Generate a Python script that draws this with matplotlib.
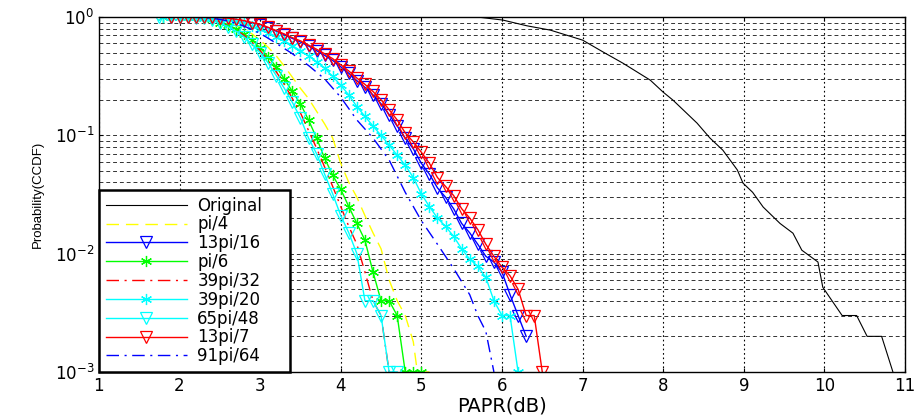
import matplotlib.pyplot as plt
import numpy as np

plt.rcParams['font.family'] = ['DejaVu Sans']

# CCDF of PAPR
orig_x = [4.5, 5.73, 6.01, 6.31, 6.6, 7.0, 7.25, 7.5, 7.84, 8.0, 8.12, 8.42, 8.58,
          8.74, 8.92, 8.99, 9.11, 9.24, 9.45, 9.61, 9.72, 9.92, 9.98, 10.22, 10.4,
          10.53, 10.71, 10.85]
orig_y = [1.0, 0.995, 0.944, 0.844, 0.776, 0.639, 0.509, 0.408, 0.293, 0.232, 0.199,
          0.127, 0.095, 0.075, 0.051, 0.0395, 0.033, 0.0248, 0.018, 0.0149, 0.0107,
          0.0085, 0.0052, 0.003, 0.003, 0.002, 0.002, 0.001]

pi4_x = [1.9, 2.0, 2.2, 2.4, 2.5, 2.6, 2.7, 2.8, 2.9, 3.0, 3.1, 3.2, 3.3, 3.4, 3.5,
         3.6, 3.7, 3.8, 3.9, 4.0, 4.1, 4.2, 4.3, 4.4, 4.5, 4.6, 4.7, 4.8, 4.9, 4.95, 5.1]
pi4_y = [1.0, 0.999, 0.995, 0.97, 0.94, 0.9, 0.85, 0.79, 0.72, 0.64, 0.555, 0.47,
         0.385, 0.31, 0.25, 0.205, 0.16, 0.125, 0.095, 0.058, 0.04, 0.03, 0.021,
         0.015, 0.011, 0.006, 0.004, 0.003, 0.0018, 0.001, 0.001]

p13_16_x = [1.9, 2.0, 2.1, 2.2, 2.3, 2.4, 2.5, 2.6, 2.7, 2.8, 2.9, 3.0, 3.1, 3.2, 3.3,
            3.4, 3.5, 3.6, 3.7, 3.8, 3.9, 4.0, 4.1, 4.2, 4.3, 4.4, 4.5, 4.6, 4.7, 4.8,
            4.9, 5.0, 5.1, 5.2, 5.3, 5.4, 5.5, 5.6, 5.7, 5.8, 5.9, 6.0, 6.1, 6.2, 6.3]
p13_16_y = [1.0, 1.0, 0.999, 0.998, 0.996, 0.993, 0.985, 0.975, 0.955, 0.925, 0.89,
            0.855, 0.81, 0.76, 0.71, 0.66, 0.615, 0.57, 0.52, 0.475, 0.43, 0.38, 0.335,
            0.29, 0.255, 0.22, 0.185, 0.15, 0.12, 0.095, 0.077, 0.058, 0.047, 0.036,
            0.03, 0.024, 0.018, 0.015, 0.012, 0.0095, 0.0085, 0.007, 0.0045, 0.003, 0.002]

pi6_x = [1.8, 1.9, 2.0, 2.1, 2.2, 2.3, 2.4, 2.5, 2.6, 2.7, 2.8, 2.9, 3.0, 3.1, 3.2,
         3.3, 3.4, 3.5, 3.6, 3.7, 3.8, 3.9, 4.0, 4.1, 4.2, 4.3, 4.4, 4.5, 4.6, 4.7,
         4.8, 4.9, 5.0]
pi6_y = [1.0, 1.0, 0.999, 0.997, 0.993, 0.985, 0.955, 0.9, 0.85, 0.8, 0.72, 0.64,
         0.55, 0.46, 0.38, 0.3, 0.235, 0.185, 0.135, 0.095, 0.064, 0.046, 0.035, 0.025,
         0.018, 0.013, 0.007, 0.004, 0.004, 0.003, 0.001, 0.001, 0.001]

p39_32_x = [1.8, 2.0, 2.2, 2.4, 2.5, 2.6, 2.7, 2.8, 2.9, 3.0, 3.1, 3.2, 3.3, 3.4, 3.5,
            3.6, 3.7, 3.8, 3.9, 4.0, 4.1, 4.2, 4.3, 4.4, 4.5, 4.6]
p39_32_y = [1.0, 0.998, 0.99, 0.95, 0.9, 0.845, 0.775, 0.7, 0.61, 0.52, 0.43, 0.345,
            0.27, 0.205, 0.155, 0.11, 0.078, 0.054, 0.037, 0.025, 0.017, 0.012, 0.007,
            0.004, 0.003, 0.001]

p39_20_x = [1.8, 1.9, 2.0, 2.1, 2.2, 2.3, 2.4, 2.5, 2.6, 2.7, 2.8, 2.9, 3.0, 3.1, 3.2,
            3.3, 3.4, 3.5, 3.6, 3.7, 3.8, 3.9, 4.0, 4.1, 4.2, 4.3, 4.4, 4.5, 4.6, 4.7,
            4.8, 4.9, 5.0, 5.1, 5.2, 5.3, 5.4, 5.5, 5.6, 5.7, 5.8, 5.9, 6.0, 6.1, 6.2]
p39_20_y = [1.0, 1.0, 0.999, 0.998, 0.996, 0.992, 0.985, 0.975, 0.955, 0.925, 0.885,
            0.84, 0.79, 0.74, 0.685, 0.63, 0.575, 0.52, 0.47, 0.42, 0.37, 0.315, 0.265,
            0.22, 0.175, 0.145, 0.12, 0.1, 0.083, 0.068, 0.056, 0.044, 0.032, 0.025,
            0.02, 0.017, 0.014, 0.011, 0.009, 0.0078, 0.0063, 0.004, 0.003, 0.003, 0.001]

p65_48_x = [1.75, 1.9, 2.0, 2.1, 2.2, 2.3, 2.4, 2.5, 2.6, 2.7, 2.8, 2.9, 3.0, 3.1, 3.2,
            3.3, 3.4, 3.5, 3.6, 3.7, 3.8, 3.9, 4.0, 4.1, 4.2, 4.3, 4.4, 4.5, 4.6, 4.7]
p65_48_y = [1.0, 0.999, 0.998, 0.995, 0.99, 0.975, 0.945, 0.89, 0.83, 0.76, 0.68, 0.59,
            0.5, 0.41, 0.32, 0.25, 0.19, 0.14, 0.095, 0.07, 0.047, 0.032, 0.021, 0.015,
            0.01, 0.004, 0.004, 0.003, 0.001, 0.001]

p13_7_x = [1.9, 2.0, 2.1, 2.2, 2.3, 2.4, 2.5, 2.6, 2.7, 2.8, 2.9, 3.0, 3.1, 3.2, 3.3,
           3.4, 3.5, 3.6, 3.7, 3.8, 3.9, 4.0, 4.1, 4.2, 4.3, 4.4, 4.5, 4.6, 4.7, 4.8,
           4.9, 5.0, 5.1, 5.2, 5.3, 5.4, 5.5, 5.6, 5.7, 5.8, 5.9, 6.0, 6.1, 6.2, 6.3,
           6.4, 6.5]
p13_7_y = [1.0, 1.0, 1.0, 0.999, 0.998, 0.996, 0.99, 0.98, 0.96, 0.935, 0.9, 0.87,
           0.82, 0.77, 0.72, 0.67, 0.63, 0.58, 0.535, 0.49, 0.445, 0.395, 0.35, 0.305,
           0.27, 0.235, 0.2, 0.165, 0.135, 0.105, 0.088, 0.072, 0.058, 0.044, 0.037,
           0.031, 0.024, 0.02, 0.016, 0.012, 0.0095, 0.0077, 0.0065, 0.005, 0.003,
           0.003, 0.001]

p91_64_x = [1.8, 2.0, 2.2, 2.4, 2.6, 2.8, 3.0, 3.2, 3.4, 3.6, 3.8, 4.0, 4.2, 4.4, 4.6,
            4.8, 5.0, 5.2, 5.4, 5.6, 5.7, 5.8, 5.9]
p91_64_y = [1.0, 0.999, 0.995, 0.98, 0.93, 0.84, 0.73, 0.6, 0.49, 0.39, 0.3, 0.21,
            0.135, 0.095, 0.062, 0.033, 0.019, 0.012, 0.0075, 0.0045, 0.003, 0.0022, 0.001]

fig = plt.figure(figsize=(9.16, 4.17), dpi=100)
ax = fig.add_axes([0.108, 0.108, 0.88, 0.851])

tri = dict(marker='v', markersize=9, fillstyle='none', markeredgewidth=0.9)
star = dict(marker=(6, 2, 0), markersize=8, markeredgewidth=0.9)

ax.semilogy(orig_x, orig_y, color='k', lw=0.8, label='Original')
ax.semilogy(pi4_x, pi4_y, color='yellow', lw=1.0, ls=(0, (9, 5)), label='pi/4')
ax.semilogy(p13_16_x, p13_16_y, color='blue', lw=1.0, label='13pi/16', **tri)
ax.semilogy(pi6_x, pi6_y, color='lime', lw=1.0, label='pi/6', **star)
ax.semilogy(p39_32_x, p39_32_y, color='red', lw=1.0, ls=(0, (9, 4, 1.5, 4)), label='39pi/32')
ax.semilogy(p39_20_x, p39_20_y, color='cyan', lw=1.0, label='39pi/20', **star)
ax.semilogy(p65_48_x, p65_48_y, color='cyan', lw=1.0, label='65pi/48', **tri)
ax.semilogy(p13_7_x, p13_7_y, color='red', lw=1.0, label='13pi/7', **tri)
ax.semilogy(p91_64_x, p91_64_y, color='blue', lw=1.0, ls=(0, (9, 4, 1.5, 4)), label='91pi/64')

ax.set_xlim(1, 11)
ax.set_ylim(1e-3, 1)
ax.set_xticks(range(1, 12))
ax.grid(which='major', axis='x', color='k', ls=(0, (1.5, 2.5)), lw=0.8)
ax.grid(which='both', axis='y', color='k', ls=(0, (4, 3)), lw=0.7, alpha=0.8)
ax.tick_params(which='both', direction='in', top=True, right=True, labelsize=12,
               length=3)
ax.tick_params(which='minor', length=0)
ax.set_xlabel('PAPR(dB)', fontsize=14, labelpad=1)
ax.set_ylabel('Probability(CCDF)', fontsize=9.5,
              family=['Liberation Sans Narrow', 'Liberation Sans'], labelpad=8)
for s in ax.spines.values():
    s.set_linewidth(1.0)

leg = ax.legend(loc='lower left', bbox_to_anchor=(0, 0, 0.237, 1), mode='expand',
                fontsize=12, borderaxespad=0, handlelength=4.9, handletextpad=0.6,
                labelspacing=0.05, numpoints=1, fancybox=False, framealpha=1,
                edgecolor='k', borderpad=0.4)
leg.get_frame().set_linewidth(1.8)

fig.savefig('out.png', dpi=100)
